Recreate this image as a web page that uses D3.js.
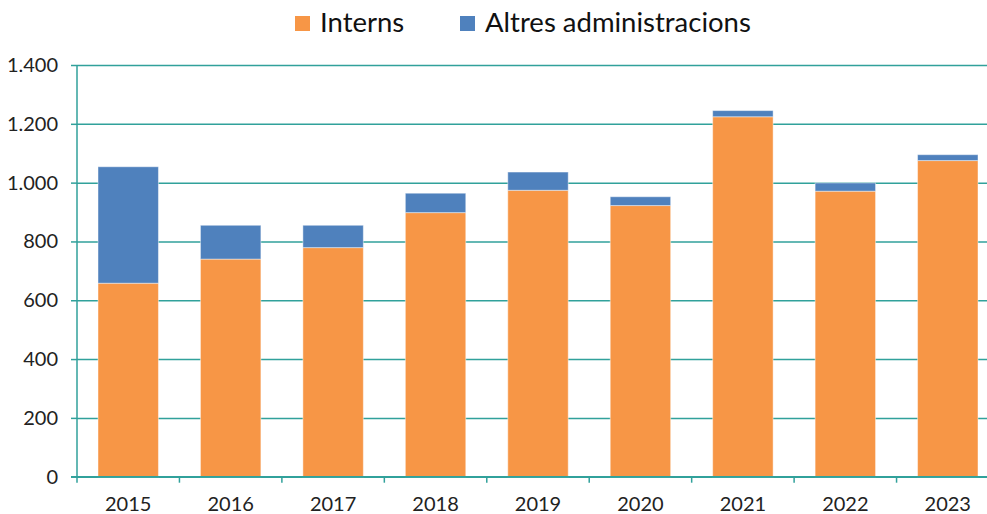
<!DOCTYPE html>
<html>
<head>
<meta charset="utf-8">
<script src="https://cdn.jsdelivr.net/npm/d3@7"></script>
<style>
  body { margin: 0; background: #fff; }
  svg { display: block; font-family: Lato, 'Liberation Sans', sans-serif; }
</style>
</head>
<body>
<div id="chart"></div>
<script>
// data
const years = ['2015', '2016', '2017', '2018', '2019', '2020', '2021', '2022', '2023'];
const interns = [658, 740, 779, 898, 974, 922, 1224, 971, 1075];
const altres = [396, 115, 76, 66, 62, 30, 21, 28, 20];
const seriesNames = ['Interns', 'Altres administracions'];
const yTicks = [0, 200, 400, 600, 800, 1000, 1200, 1400];

const width = 987;
const height = 514;
const colors = ['#f79646', '#4f81bd'];
const gridColor = '#31a19b';

const svg = d3
  .select('#chart')
  .append('svg')
  .attr('width', width)
  .attr('height', height);

const x = d3.scaleBand().domain(years).range([77, 999]).paddingInner(0.41).paddingOuter(0.205);
const y = d3.scaleLinear().domain([0, 1400]).range([476.7, 65]);

const fmt = (d) => d3.format(',')(d).replace(/,/g, '.');

// gridlines + y labels
const yAxis = svg
  .append('g')
  .attr('transform', 'translate(77,0)')
  .call(d3.axisLeft(y).tickValues(yTicks).tickSize(6).tickFormat(fmt));
yAxis.select('.domain').remove();
yAxis.selectAll('.tick line').attr('stroke', gridColor).attr('stroke-width', 1.5);
yAxis
  .selectAll('.tick')
  .append('line')
  .attr('x1', 0)
  .attr('x2', width)
  .attr('stroke', gridColor)
  .attr('stroke-width', 1.5);
yAxis
  .selectAll('.tick text')
  .attr('x', -19)
  .attr('font-size', 20)
  .attr('fill', '#222')
  .attr('font-family', 'Lato, sans-serif');

// stacked bars
const rows = years.map((yr, i) => ({ year: yr, Interns: interns[i], 'Altres administracions': altres[i] }));
const stacked = d3.stack().keys(seriesNames)(rows);

svg
  .append('g')
  .selectAll('g')
  .data(stacked)
  .join('g')
  .attr('fill', (d, i) => colors[i])
  .selectAll('rect')
  .data((d) => d)
  .join('rect')
  .attr('x', (d) => x(d.data.year))
  .attr('width', x.bandwidth())
  .attr('y', (d) => y(d[1]))
  .attr('height', (d) => y(d[0]) - y(d[1]))
  .attr('stroke', 'rgba(255,255,255,0.45)')
  .attr('stroke-width', 1);

// y axis line
svg
  .append('line')
  .attr('x1', 77)
  .attr('x2', 77)
  .attr('y1', y(1400))
  .attr('y2', y(0) + 6)
  .attr('stroke', gridColor)
  .attr('stroke-width', 1.5);

// x axis
const xAxis = svg
  .append('g')
  .attr('transform', `translate(0,${y(0)})`)
  .call(d3.axisBottom(x).tickSize(0).tickPadding(20));
xAxis.select('.domain').remove();
xAxis
  .append('line')
  .attr('x1', 71)
  .attr('x2', width)
  .attr('stroke', gridColor)
  .attr('stroke-width', 1.5);
xAxis
  .selectAll('.sep')
  .data(years.slice(1))
  .join('line')
  .attr('class', 'sep')
  .attr('x1', (d) => x(d) - (x.step() - x.bandwidth()) / 2)
  .attr('x2', (d) => x(d) - (x.step() - x.bandwidth()) / 2)
  .attr('y1', 0)
  .attr('y2', 6)
  .attr('stroke', gridColor)
  .attr('stroke-width', 1.5);
xAxis
  .selectAll('.tick text')
  .attr('font-size', 20)
  .attr('fill', '#222')
  .attr('font-family', 'Lato, sans-serif');

// legend
const legendX = [295, 460];
const legend = svg
  .append('g')
  .selectAll('g')
  .data(seriesNames)
  .join('g')
  .attr('transform', (d, i) => `translate(${legendX[i]},16)`);
legend
  .append('rect')
  .attr('width', 15)
  .attr('height', 15)
  .attr('fill', (d, i) => colors[i]);
legend
  .append('text')
  .attr('x', 25)
  .attr('y', 15.5)
  .attr('font-size', 27.5)
  .attr('fill', '#111')
  .text((d) => d);
</script>
</body>
</html>
